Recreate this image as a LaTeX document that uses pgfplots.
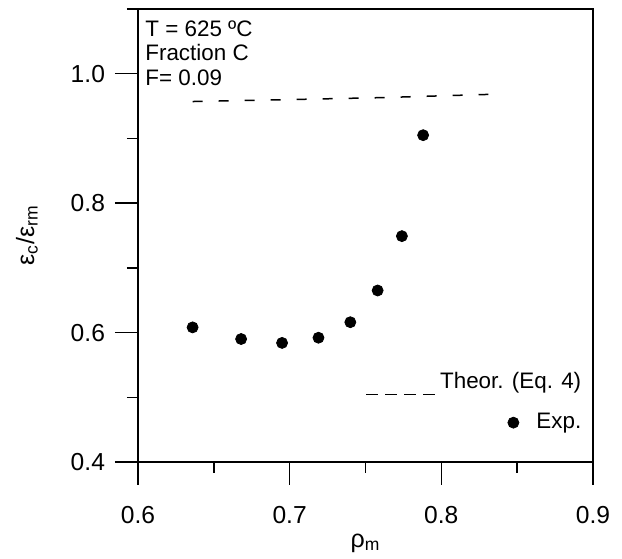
\documentclass[border=0pt]{standalone}
\usepackage{pgfplots}
\pgfplotsset{compat=1.18}
\usepackage{fontspec}
\setmainfont{Liberation Sans}
\begin{document}
\begin{tikzpicture}
\begin{axis}[
  scale only axis, width=227.5pt, height=226.5pt,
  xmin=0.6, xmax=0.9, ymin=0.4, ymax=1.1,
  xtick={0.6,0.7,0.8,0.9}, minor xtick={0.65,0.75,0.85},
  ytick={0.4,0.6,0.8,1.0}, minor ytick={0.5,0.7,0.9,1.1},
  tick pos=left, tick align=outside,
  major tick length=11.5pt, minor tick length=5.5pt,
  every tick/.style={black, line width=0.75pt},
  axis line style={line width=0.75pt},
  /pgf/number format/assume math mode=true,
  xticklabel style={yshift=-7pt, /pgf/number format/fixed, /pgf/number format/fixed zerofill, /pgf/number format/precision=1},
  yticklabel style={xshift=-1.5pt, /pgf/number format/fixed, /pgf/number format/fixed zerofill, /pgf/number format/precision=1},
  tick label style={font=\fontsize{12.3}{14}\selectfont},
  xlabel={ρ\textsubscript{m}}, ylabel={ε\textsubscript{c}/ε\textsubscript{rm}},
  label style={font=\fontsize{12.5}{14}\selectfont},
  x label style={at={(axis description cs:0.5,-0.1788)}, anchor=center},
  y label style={at={(axis description cs:-0.244,0.5)}, anchor=center},
  legend style={draw=none, fill=none, at={(axis description cs:0.997,0.217)}, anchor=north east,
    font=\fontsize{11.2}{13}\selectfont, row sep=7pt},
  legend cell align=right,
]
\addplot[black, line width=0.75pt, dash pattern=on 5pt off 8pt,
  legend image code/.code={\draw[black, line width=0.75pt, dash pattern=on 6pt off 3.5pt] (0pt,-6.5pt) -- (34.5pt,-6.5pt);}]
  coordinates {(0.636,0.957) (0.70,0.960) (0.76,0.963) (0.831,0.968)};
\addlegendentry{Theor. (Eq. 4)}
\addplot[only marks, mark=*, mark size=2.75pt, black,
  legend image code/.code={\path[draw=none,fill=none] (0pt,0pt) -- (34.5pt,0pt); \fill[black,overlay] (73.5pt,0pt) circle (2.75pt);}]
  coordinates {(0.636,0.608) (0.668,0.590) (0.695,0.584) (0.719,0.592) (0.740,0.616) (0.758,0.665) (0.774,0.749) (0.788,0.905)};
\addlegendentry{Exp.}
\node[anchor=north west, inner sep=0pt, align=left, font=\fontsize{11.2}{12.3}\selectfont]
  at ([xshift=3.5pt,yshift=-5.5pt]rel axis cs:0,1) {T = 625 ºC\\Fraction C\\F= 0.09};
\coordinate (ll) at (rel axis cs:0,0);
\coordinate (ur) at (rel axis cs:1,1);
\end{axis}
\path ([shift={(-69pt,-48pt)}]ll) rectangle ([shift={(14.5pt,4.5pt)}]ur);
\end{tikzpicture}
\end{document}
